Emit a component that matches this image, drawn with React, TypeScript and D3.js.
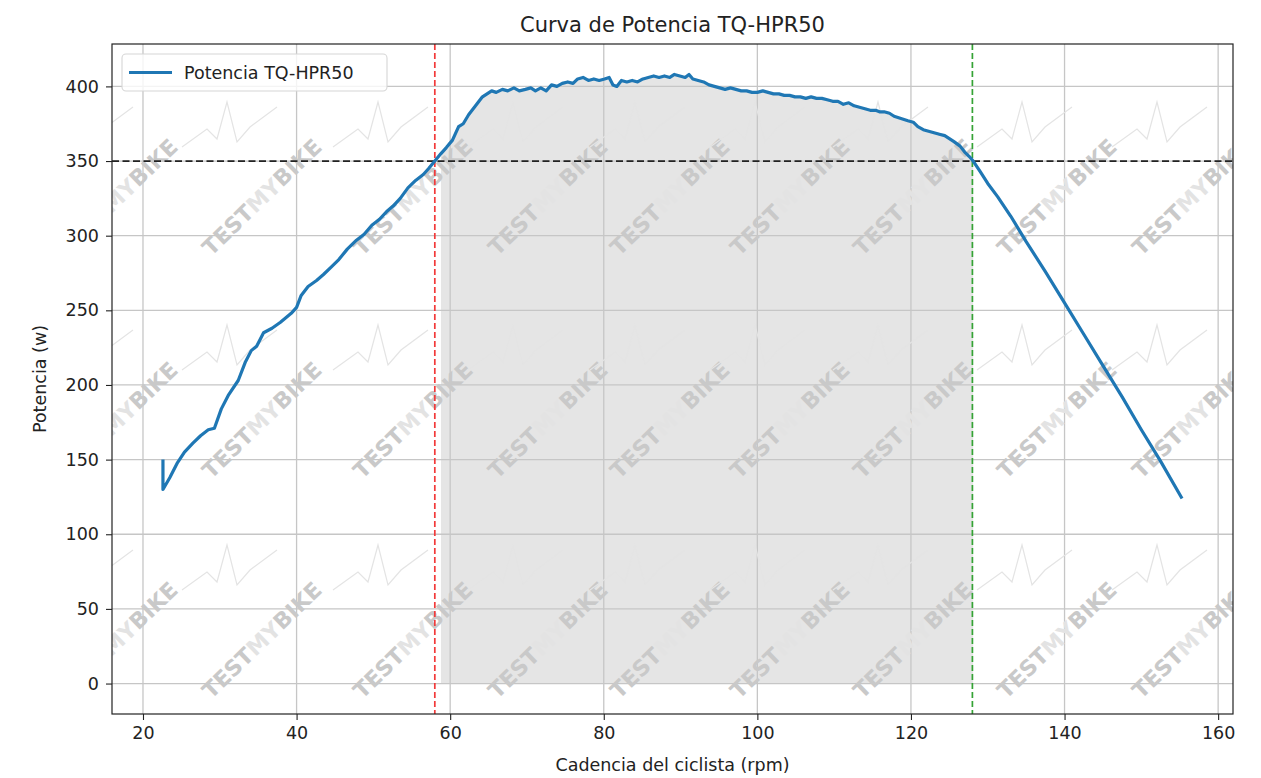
import React, { useEffect, useRef } from "react";
import * as d3 from "d3";

// cadence (rpm) and power (w)
const cadence = [
  22.6, 22.6, 23.5, 24.5, 25.4, 26.5, 27.5, 28.5, 29.3, 30.2, 31.1, 32.4, 33.3, 34.1, 34.8,
  35.7, 36.8, 37.9, 39.3, 40.0, 40.6, 41.5, 42.6, 43.5, 44.5, 45.5, 46.6, 47.8, 48.8, 49.8,
  50.8, 51.7, 52.6, 53.5, 54.5, 55.5, 56.5, 57.2, 58.0, 58.8, 59.5, 60.3, 61.1, 61.7, 62.4,
  63.0, 63.6, 64.2, 64.8, 65.4, 66.0, 66.8, 67.5, 68.3, 69.0, 69.8, 70.5, 71.1, 71.8, 72.5,
  73.2, 73.9, 74.6, 75.3, 76.0, 76.6, 77.3, 78.0, 78.7, 79.4, 80.1, 80.7, 81.2, 81.7, 82.3,
  83.0, 83.7, 84.4, 85.1, 85.8, 86.5, 87.2, 87.9, 88.6, 89.2, 89.9, 90.6, 91.1, 91.6, 92.3,
  93.0, 93.7, 94.4, 95.1, 95.8, 96.5, 97.2, 97.9, 98.6, 99.3, 100.0, 100.7, 101.4, 102.1, 102.8,
  103.5, 104.2, 104.9, 105.6, 106.3, 107.0, 107.7, 108.4, 109.1, 109.8, 110.5, 111.2, 111.9, 112.6, 113.3,
  114.0, 114.7, 115.4, 115.9, 116.5, 117.2, 117.8, 118.4, 119.0, 119.6, 120.3, 120.9, 121.6, 122.3, 123.0,
  123.7, 124.4, 125.0, 125.6, 126.4, 127.0, 127.6, 128.1, 129.0, 130.0, 131.3, 133.0, 135.0, 137.5, 140.0,
  142.5, 145.0, 147.5, 150.0, 152.5, 155.3
];
const power = [
  150, 130, 138, 148, 155, 161, 166, 170, 171, 184, 193, 203, 215, 223, 226,
  235, 238, 242, 248, 252, 260, 266, 270, 274, 279, 284, 291, 297, 301, 307,
  311, 316, 320, 325, 332, 337, 341, 345, 350, 355, 359, 364, 373, 375, 381,
  385, 389, 393, 395, 397, 396, 398, 397, 399, 397, 398, 399, 397, 399, 397,
  401, 400, 402, 403, 402, 405, 406, 404, 405, 404, 405, 406, 401, 400, 404,
  403, 404, 403, 405, 406, 407, 406, 407, 406, 408, 407, 406, 408, 405, 404,
  403, 401, 400, 399, 398, 399, 398, 397, 397, 396, 396, 397, 396, 395, 395,
  394, 394, 393, 393, 392, 393, 392, 392, 391, 390, 390, 388, 389, 387, 386,
  385, 384, 384, 383, 383, 382, 380, 379, 378, 377, 376, 373, 371, 370, 369,
  368, 367, 365, 363, 360, 356, 353, 350, 343, 335, 326, 313, 296, 276, 255,
  234, 213, 192, 170, 149, 124
];

const xTicks = [20, 40, 60, 80, 100, 120, 140, 160];
const yTicks = [0, 50, 100, 150, 200, 250, 300, 350, 400];

const powerLine = 350;
const cadenceLow = 58.0;
const cadenceHigh = 128.0;

// watermark tile centres (decoration)
const wmCols = [118, 262, 413, 548, 670, 790, 913, 1057, 1192];
const wmRows = [197, 420, 640];

const W = 1261;
const H = 778;
const margin = { top: 44, right: 28, bottom: 64, left: 112 };

const font = "'DejaVu Sans', sans-serif";

export default function App() {
  const ref = useRef<SVGSVGElement>(null);

  useEffect(() => {
    const svg = d3.select(ref.current);
    svg.selectAll("*").remove();

    const data = cadence.map((c, i) => ({ c, p: power[i] }));

    const xMin = d3.min(cadence)!, xMax = d3.max(cadence)!;
    const xPad = (xMax - xMin) * 0.05;
    const yMin = 0, yMax = d3.max(power)!;
    const yPad = (yMax - yMin) * 0.05;

    const x = d3.scaleLinear().domain([xMin - xPad, xMax + xPad]).range([margin.left, W - margin.right]);
    const y = d3.scaleLinear().domain([yMin - yPad, yMax + yPad]).range([H - margin.bottom, margin.top]);

    const x0 = margin.left, x1 = W - margin.right;
    const y0 = margin.top, y1 = H - margin.bottom;

    svg.append("defs").append("clipPath").attr("id", "plotclip")
      .append("rect").attr("x", x0).attr("y", y0).attr("width", x1 - x0).attr("height", y1 - y0);

    // shaded band between the two cadences
    const band = data.filter(d => d.c >= cadenceLow + 0.5 && d.c <= cadenceHigh + 0.1);
    svg.append("path")
      .datum(band)
      .attr("fill", "#e5e5e5")
      .attr("d", d3.area<{ c: number; p: number }>()
        .x(d => x(d.c))
        .y0(y(0))
        .y1(d => y(d.p)));

    // grid
    const grid = svg.append("g").attr("stroke", "#c6c6c6").attr("stroke-width", 1.3);
    grid.selectAll(".gx").data(xTicks).join("line")
      .attr("x1", d => x(d)).attr("x2", d => x(d)).attr("y1", y0).attr("y2", y1);
    grid.selectAll(".gy").data(yTicks).join("line")
      .attr("y1", d => y(d)).attr("y2", d => y(d)).attr("x1", x0).attr("x2", x1);

    // watermark
    const wm = svg.append("g").attr("clip-path", "url(#plotclip)");
    wmRows.forEach(ry => {
      wmCols.forEach(cx => {
        const g = wm.append("g").attr("transform", `translate(${cx},${ry})`);
        g.append("path")
          .attr("d", "M-80,-50 L-55,-68 L-45,-58 L-35,-95 L-25,-55 L-12,-70 L15,-90")
          .attr("fill", "none")
          .attr("stroke", "#e4e4e4")
          .attr("stroke-width", 1.2);
        const t = g.append("text")
          .attr("transform", "rotate(-44)")
          .attr("text-anchor", "middle")
          .attr("dy", "0.35em")
          .style("font-family", font)
          .style("font-weight", "bold")
          .style("font-size", "22px");
        t.append("tspan").attr("fill", "#c9c9c9").text("TEST");
        t.append("tspan").attr("fill", "#e3e3e3").text("MY");
        t.append("tspan").attr("fill", "#c9c9c9").text("BIKE");
      });
    });

    // reference lines
    svg.append("line")
      .attr("x1", x0).attr("x2", x1).attr("y1", y(powerLine)).attr("y2", y(powerLine))
      .attr("stroke", "#222").attr("stroke-width", 1.8).attr("stroke-dasharray", "7,3.5");
    svg.append("line")
      .attr("x1", x(cadenceLow)).attr("x2", x(cadenceLow)).attr("y1", y0).attr("y2", y1)
      .attr("stroke", "#f23a3a").attr("stroke-width", 1.7).attr("stroke-dasharray", "6,3");
    svg.append("line")
      .attr("x1", x(cadenceHigh)).attr("x2", x(cadenceHigh)).attr("y1", y0).attr("y2", y1)
      .attr("stroke", "#35a335").attr("stroke-width", 1.7).attr("stroke-dasharray", "6,3");

    // power curve
    svg.append("path")
      .datum(data)
      .attr("fill", "none")
      .attr("stroke", "#1f77b4")
      .attr("stroke-width", 3.2)
      .attr("stroke-linejoin", "round")
      .attr("d", d3.line<{ c: number; p: number }>().x(d => x(d.c)).y(d => y(d.p)));

    // axes
    const xAxis = svg.append("g")
      .attr("transform", `translate(0,${y1})`)
      .call(d3.axisBottom(x).tickValues(xTicks).tickSize(6).tickPadding(7).tickFormat(d3.format("d")));
    const yAxis = svg.append("g")
      .attr("transform", `translate(${x0},0)`)
      .call(d3.axisLeft(y).tickValues(yTicks).tickSize(6).tickPadding(7).tickFormat(d3.format("d")));
    [xAxis, yAxis].forEach(a => {
      a.select(".domain").remove();
      a.selectAll("line").attr("stroke", "#222").attr("stroke-width", 1.1);
      a.selectAll("text").style("font-family", font).style("font-size", "17.5px").attr("fill", "#222");
    });

    // frame
    svg.append("rect")
      .attr("x", x0).attr("y", y0).attr("width", x1 - x0).attr("height", y1 - y0)
      .attr("fill", "none").attr("stroke", "#222").attr("stroke-width", 1.2);

    // legend
    const lg = svg.append("g");
    lg.append("rect")
      .attr("x", 122).attr("y", 54).attr("width", 265).attr("height", 37).attr("rx", 4)
      .attr("fill", "white").attr("fill-opacity", 0.8)
      .attr("stroke", "#d6d6d6").attr("stroke-width", 1.1);
    lg.append("line")
      .attr("x1", 129).attr("x2", 172).attr("y1", 72.5).attr("y2", 72.5)
      .attr("stroke", "#1f77b4").attr("stroke-width", 3.2);
    lg.append("text")
      .attr("x", 184).attr("y", 78.5)
      .style("font-family", font).style("font-size", "17.5px").attr("fill", "#222")
      .text("Potencia TQ-HPR50");

    // titles
    svg.append("text")
      .attr("x", (x0 + x1) / 2).attr("y", 32)
      .attr("text-anchor", "middle")
      .style("font-family", font).style("font-size", "21px").attr("fill", "#222")
      .text("Curva de Potencia TQ-HPR50");
    svg.append("text")
      .attr("x", (x0 + x1) / 2).attr("y", 771)
      .attr("text-anchor", "middle")
      .style("font-family", font).style("font-size", "17.5px").attr("fill", "#222")
      .text("Cadencia del ciclista (rpm)");
    svg.append("text")
      .attr("transform", `translate(46,${(y0 + y1) / 2}) rotate(-90)`)
      .attr("text-anchor", "middle")
      .style("font-family", font).style("font-size", "17.5px").attr("fill", "#222")
      .text("Potencia (w)");
  }, []);

  return (
    <svg
      ref={ref}
      width={W}
      height={H}
      style={{ position: "absolute", left: 0, top: 0, background: "white" }}
    />
  );
}
